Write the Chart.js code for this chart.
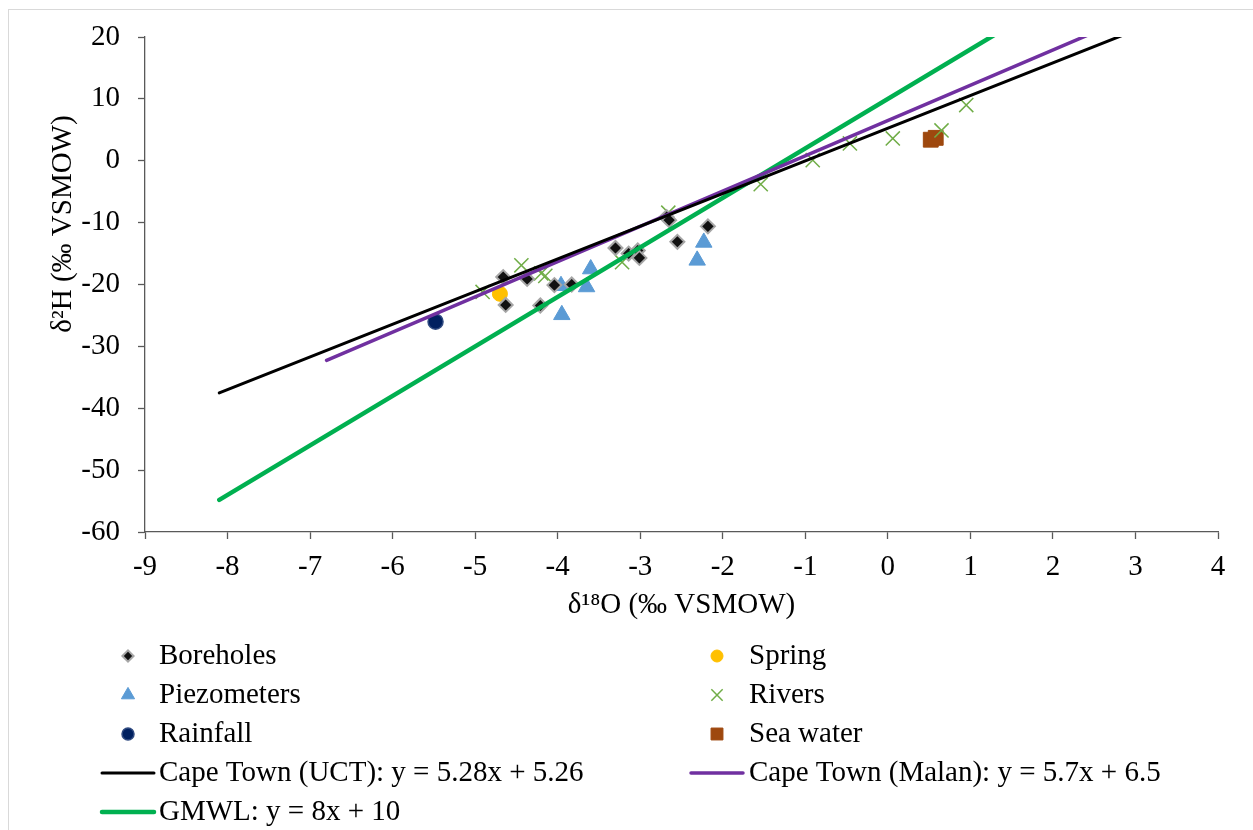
<!DOCTYPE html>
<html>
<head>
<meta charset="utf-8">
<script src="https://cdn.jsdelivr.net/npm/chart.js@4/dist/chart.umd.min.js"></script>
<style>
  html, body { margin: 0; padding: 0; background: #fff; }
  canvas { display: block; }
</style>
</head>
<body>
<canvas id="isoChart" width="1253" height="830"></canvas>
<script>
// sample isotope values, d18O (x) and d2H (y), per-mil VSMOW
var boreholesX = [-4.66, -4.63, -4.37, -4.21, -4.04, -3.83, -3.30, -3.14, -3.03, -3.01, -2.68, -2.65, -2.55, -2.18];
var boreholesY = [-18.8, -23.3, -19.1, -23.4, -20.1, -20.0, -14.1, -15.0, -14.5, -15.7, -9.1, -9.6, -13.1, -10.6];

var springX = [-4.70];
var springY = [-21.5];

var piezoX = [-3.96, -3.95, -3.65, -3.60, -2.31, -2.23];
var piezoY = [-20.2, -24.9, -20.4, -17.5, -16.1, -13.2];

var riversX = [-4.91, -4.44, -4.20, -4.15, -3.22, -2.66, -1.54, -0.91, -0.46, 0.06, 0.65, 0.95];
var riversY = [-21.2, -16.9, -18.2, -18.6, -16.4, -8.4, -3.8, 0.1, 2.8, 3.6, 4.9, 9.0];

var rainX = [-5.48];
var rainY = [-26.0];

var seaX = [0.52, 0.58];
var seaY = [3.4, 3.7];

// meteoric water lines: [slope, intercept], drawn over an x range
var uctLine = [5.28, 5.26];
var uctRange = [-8.1, 3.0];
var malanLine = [5.7, 6.5];
var malanRange = [-6.8, 2.5];
var gmwlLine = [8, 10];
var gmwlRange = [-8.1, 1.5];

var xTicks = [-9, 4, 1];     // min, max, step
var yTicks = [-60, 20, 10];

var FONT = '"Liberation Serif", "Times New Roman", serif';
var FONT_SIZE = 29;

function toPoints(xs, ys) {
    var pts = [];
    for (var i = 0; i < xs.length; i++) {
        pts.push({ x: xs[i], y: ys[i] });
    }
    return pts;
}

function linePoints(coef, range) {
    return range.map(function (x) {
        return { x: x, y: coef[0] * x + coef[1] };
    });
}

function scatterSet(label, xs, ys, style, radius, fill, border, bw) {
    return {
        type: 'scatter',
        label: label,
        data: toPoints(xs, ys),
        pointStyle: style,
        pointRadius: radius,
        pointBackgroundColor: fill,
        pointBorderColor: border,
        pointBorderWidth: bw,
        order: 1
    };
}

function lineSet(label, coef, range, color, width) {
    return {
        type: 'line',
        label: label,
        data: linePoints(coef, range),
        borderColor: color,
        borderWidth: width,
        borderCapStyle: 'round',
        pointRadius: 0,
        fill: false,
        clip: 0,
        order: 0
    };
}

var datasets = [
    scatterSet('Boreholes', boreholesX, boreholesY, 'rectRot', 7, '#111111', '#a6a6a6', 2),
    scatterSet('Spring', springX, springY, 'circle', 7.5, '#ffc000', '#ffc000', 1),
    scatterSet('Piezometers', piezoX, piezoY, 'triangle', 9.5, '#5b9bd5', '#5b9bd5', 1),
    scatterSet('Rivers', riversX, riversY, 'crossRot', 10, '#70ad47', '#70ad47', 1.5),
    scatterSet('Rainfall', rainX, rainY, 'circle', 7.5, '#002060', '#2f4a80', 1.5),
    scatterSet('Sea water', seaX, seaY, 'rect', 10.5, '#9e480e', '#9e480e', 1),
    lineSet('Cape Town (UCT): y = ' + uctLine[0] + 'x + ' + uctLine[1], uctLine, uctRange, '#000000', 3),
    lineSet('Cape Town (Malan): y = ' + malanLine[0] + 'x + ' + malanLine[1], malanLine, malanRange, '#7030a0', 3.5),
    lineSet('GMWL: y = ' + gmwlLine[0] + 'x + ' + gmwlLine[1], gmwlLine, gmwlRange, '#00b050', 4.5)
];

// white page, light frame, axis titles and a two-column legend
var decor = {
    id: 'decor',
    beforeDraw: function (chart) {
        var ctx = chart.ctx;
        ctx.save();
        ctx.fillStyle = '#ffffff';
        ctx.fillRect(0, 0, chart.width, chart.height);
        ctx.strokeStyle = '#d9d9d9';
        ctx.lineWidth = 1;
        ctx.strokeRect(8.5, 9.5, chart.width + 20, chart.height + 20);
        ctx.restore();
    },
    afterDraw: function (chart) {
        var ctx = chart.ctx;
        var area = chart.chartArea;
        ctx.save();
        ctx.fillStyle = '#000000';
        ctx.font = FONT_SIZE + 'px ' + FONT;
        ctx.textAlign = 'center';
        ctx.textBaseline = 'middle';
        ctx.fillText('δ¹⁸O (‰ VSMOW)', (area.left + area.right) / 2, 605);

        ctx.save();
        ctx.translate(63, 224);
        ctx.rotate(-Math.PI / 2);
        ctx.fillText('δ²H (‰ VSMOW)', 0, 0);
        ctx.restore();

        // legend
        var colMarker = [128, 717];
        var colText = [159, 749];
        var rowY = [656, 695, 734, 773, 812];
        ctx.textAlign = 'left';
        chart.data.datasets.forEach(function (ds, i) {
            var col = i % 2;
            var row = Math.floor(i / 2);
            var mx = colMarker[col];
            var my = rowY[row];
            if (ds.type === 'line') {
                ctx.strokeStyle = ds.borderColor;
                ctx.lineWidth = ds.borderWidth;
                ctx.lineCap = 'round';
                ctx.beginPath();
                ctx.moveTo(mx - 26, my);
                ctx.lineTo(mx + 26, my);
                ctx.stroke();
            } else {
                ctx.fillStyle = ds.pointBackgroundColor;
                ctx.strokeStyle = ds.pointBorderColor;
                ctx.lineWidth = ds.pointBorderWidth;
                Chart.helpers.drawPoint(ctx, {
                    pointStyle: ds.pointStyle,
                    radius: ds.pointRadius * 0.8,
                    borderWidth: ds.pointBorderWidth,
                    rotation: 0
                }, mx, my);
            }
            ctx.fillStyle = '#000000';
            ctx.fillText(ds.label, colText[col], my);
        });
        ctx.restore();
    }
};

function axisStyle(min, max, step, pad, fit) {
    return {
        type: 'linear',
        min: min,
        max: max,
        ticks: {
            stepSize: step,
            color: '#000000',
            font: { family: FONT, size: FONT_SIZE },
            padding: pad,
            callback: function (v) { return String(v); }
        },
        grid: {
            drawOnChartArea: false,
            drawTicks: true,
            tickLength: 7,
            tickWidth: 1.3,
            color: '#595959'
        },
        border: { display: true, color: '#595959', width: 1.3 },
        afterFit: fit
    };
}

var ctx = document.getElementById('isoChart');
var isoChart = new Chart(ctx, {
    type: 'scatter',
    data: { datasets: datasets },
    options: {
        responsive: false,
        animation: false,
        layout: { padding: { top: 37, right: 35, left: 0, bottom: 0 } },
        plugins: {
            legend: { display: false },
            tooltip: { enabled: false }
        },
        scales: {
            x: axisStyle(xTicks[0], xTicks[1], xTicks[2], 11, function (s) { s.height = 830 - 37 - 495; }),
            y: axisStyle(yTicks[0], yTicks[1], yTicks[2], 18, function (s) { s.width = 145; })
        }
    },
    plugins: [decor]
});
</script>
</body>
</html>
